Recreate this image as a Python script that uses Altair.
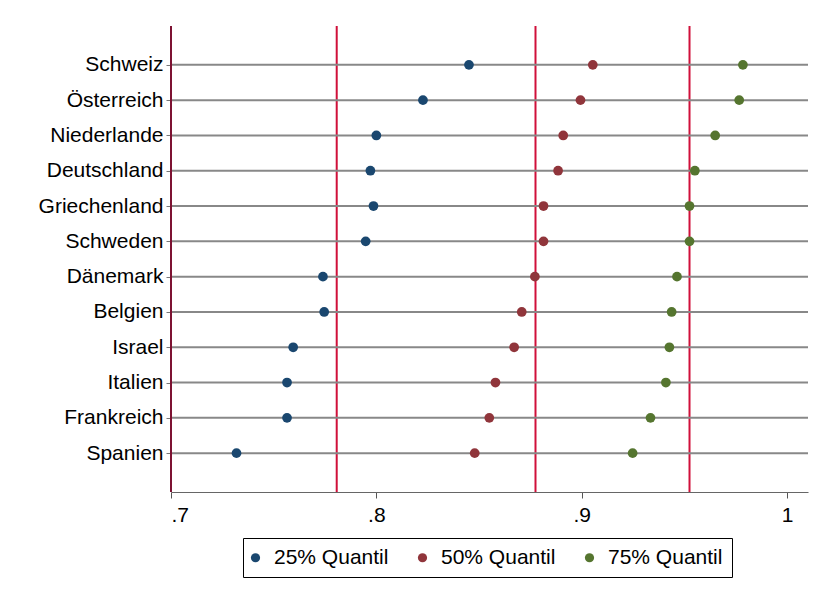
import altair as alt
import pandas as pd

countries = ["Schweiz", "Österreich", "Niederlande", "Deutschland", "Griechenland",
             "Schweden", "Dänemark", "Belgien", "Israel", "Italien", "Frankreich", "Spanien"]
q25 = [0.8451, 0.8227, 0.8000, 0.7971, 0.7986, 0.7948, 0.7740, 0.7746, 0.7595, 0.7565, 0.7565, 0.7319]
q50 = [0.9054, 0.8994, 0.8910, 0.8885, 0.8814, 0.8814, 0.8772, 0.8708, 0.8671, 0.8580, 0.8550, 0.8479]
q75 = [0.9785, 0.9767, 0.9650, 0.9551, 0.9525, 0.9525, 0.9464, 0.9438, 0.9427, 0.9410, 0.9335, 0.9248]
series = ["25% Quantil", "50% Quantil", "75% Quantil"]
colors = ["#1a476f", "#90353b", "#55752f"]
ref_lines = [0.7807, 0.8775, 0.9525]
x_ticks = [0.7, 0.8, 0.9, 1.0]

rows = []
for s, vals in zip(series, [q25, q50, q75]):
    for i, (c, v) in enumerate(zip(countries, vals)):
        rows.append({"country": c, "idx": i, "series": s, "value": v})
df = pd.DataFrame(rows)
df_c = pd.DataFrame({"country": countries, "idx": list(range(len(countries)))})
df_ref = pd.DataFrame({"v": ref_lines})
df_left = pd.DataFrame({"v": [0.7]})

FONT = "Liberation Sans"
FS = 21
PAD = 1.1
n = len(countries)

names_js = "[" + ",".join("'" + c + "'" for c in countries) + "]"

xscale = alt.Scale(domain=[0.7, 1.0102], nice=False, zero=False)
yscale = alt.Scale(domain=[n - 1 + PAD, -PAD], nice=False, zero=False)
yaxis = alt.Axis(title=None, grid=False, domain=False, ticks=True,
                 values=list(range(n)),
                 labelExpr=names_js + "[datum.value]",
                 tickColor="#777777", tickSize=5, tickWidth=1,
                 labelPadding=3, labelFontSize=FS, labelFont=FONT,
                 labelColor="black", minExtent=163, maxExtent=163)

xaxis = alt.Axis(title=None, values=x_ticks, grid=False,
                 labelExpr="datum.value == 1 ? '1' : replace(format(datum.value, '.1f'), '0.', '.')",
                 labelFontSize=FS, labelFont=FONT, labelColor="black",
                 labelPadding=6, tickSize=6, tickColor="#555555", tickWidth=1,
                 domainColor="#666666", domainWidth=1.2)

refs = alt.Chart(df_ref).mark_rule(color="#d0103a", strokeWidth=2).encode(
    x=alt.X("v:Q", scale=xscale, axis=xaxis)
)
left = alt.Chart(df_left).mark_rule(color="#7d1232", strokeWidth=2).encode(
    x=alt.X("v:Q", scale=xscale)
)
hlines = alt.Chart(df_c).mark_rule(color="#888888", strokeWidth=2).encode(
    y=alt.Y("idx:Q", scale=yscale, axis=yaxis)
)
points = alt.Chart(df).mark_circle(size=95, opacity=1).encode(
    x=alt.X("value:Q", scale=xscale),
    y=alt.Y("idx:Q", scale=yscale),
    color=alt.Color("series:N", scale=alt.Scale(domain=series, range=colors),
                    legend=alt.Legend(title=None, orient="none", legendX=72, legendY=512,
                                      direction="horizontal", symbolType="circle",
                                      symbolSize=85, symbolStrokeWidth=0, symbolOffset=-7,
                                      labelFontSize=FS, labelFont=FONT, labelColor="black",
                                      labelOffset=8, columnPadding=28, padding=9,
                                      strokeColor="black", fillColor="white"))
)

chart = alt.layer(refs, hlines, left, points).properties(
    width=637, height=466,
    padding={"left": 0, "top": 17, "right": 10, "bottom": 10},
    background="white"
).configure_view(stroke=None)

chart.save("out.html", embed_options={"renderer": "svg", "actions": False})
